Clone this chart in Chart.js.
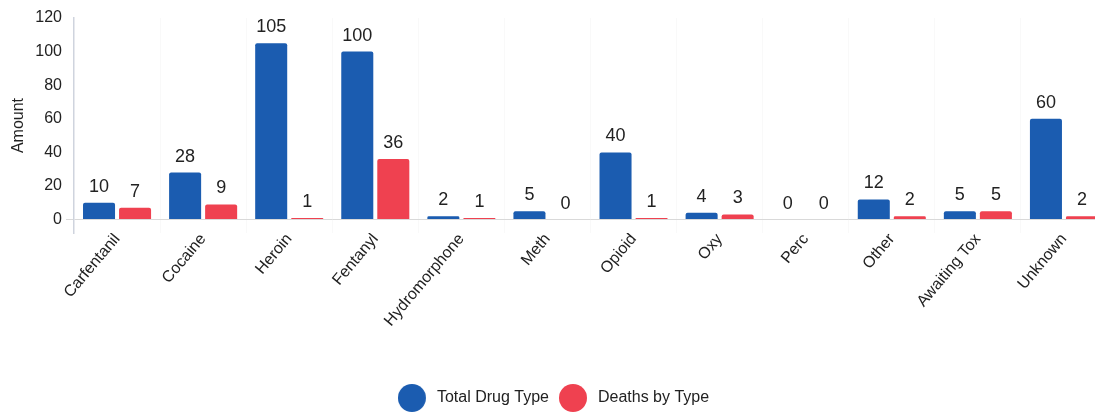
<!DOCTYPE html>
<html>
<head>
<meta charset="utf-8">
<script src="https://cdn.jsdelivr.net/npm/chart.js@4.4.1/dist/chart.umd.min.js"></script>
<style>
  html, body { margin: 0; padding: 0; background: #ffffff; overflow: hidden; }
  #wrap { position: absolute; left: 0; top: 0; width: 1107px; height: 416px; }
</style>
</head>
<body>
<div id="wrap"><canvas id="chart" width="1107" height="416"></canvas></div>
<script>
// Drug categories and counts
const categories = ['Carfentanil', 'Cocaine', 'Heroin', 'Fentanyl', 'Hydromorphone', 'Meth',
                    'Opioid', 'Oxy', 'Perc', 'Other', 'Awaiting Tox', 'Unknown'];
const totalDrugType = [10, 28, 105, 100, 2, 5, 40, 4, 0, 12, 5, 60];
const deathsByType  = [7, 9, 1, 36, 1, 0, 1, 3, 0, 2, 5, 2];
const yTickValues   = [0, 20, 40, 60, 80, 100, 120];

const BLUE = '#1b5cb0';
const RED = '#ef4150';
const FONT = "'Liberation Sans', Arial, Helvetica, sans-serif";

Chart.defaults.font.family = FONT;
Chart.defaults.color = '#222';

// Filled circle used as the legend marker
function legendDot(color) {
  const c = document.createElement('canvas');
  c.width = 31; c.height = 28;
  const g = c.getContext('2d');
  g.fillStyle = color;
  g.beginPath();
  g.arc(14, 14, 14, 0, Math.PI * 2);
  g.fill();
  return c;
}
const dots = [legendDot(BLUE), legendDot(RED)];

// Value printed above each bar
const valueLabels = {
  id: 'valueLabels',
  afterDatasetsDraw(chart) {
    const ctx = chart.ctx;
    ctx.save();
    ctx.font = '18px ' + FONT;
    ctx.fillStyle = '#222';
    ctx.textAlign = 'center';
    ctx.textBaseline = 'middle';
    chart.data.datasets.forEach((ds, i) => {
      const meta = chart.getDatasetMeta(i);
      meta.data.forEach((bar, j) => {
        ctx.fillText(String(ds.data[j]), bar.x, bar.y - 16);
      });
    });
    ctx.restore();
  }
};

new Chart(document.getElementById('chart'), {
  type: 'bar',
  data: {
    labels: categories,
    datasets: [
      { label: 'Total Drug Type', data: totalDrugType, backgroundColor: BLUE,
        borderRadius: 2, categoryPercentage: 0.837, barPercentage: 0.889 },
      { label: 'Deaths by Type', data: deathsByType, backgroundColor: RED,
        borderRadius: 2, categoryPercentage: 0.837, barPercentage: 0.889 }
    ]
  },
  options: {
    responsive: false,
    animation: false,
    layout: { padding: { top: 18, left: 0, right: 0, bottom: 0 } },
    scales: {
      x: {
        grid: { color: 'rgba(0,0,0,0.025)', drawTicks: false },
        border: { display: false },
        ticks: {
          autoSkip: false, minRotation: 50, maxRotation: 50,
          padding: -3, color: '#222', font: { size: 16 }
        },
        afterFit(scale) { scale.height = 147; }
      },
      y: {
        min: -8, max: 120,
        border: { display: true, color: '#cfd4de', width: 1.5 },
        grid: {
          tickLength: 8,
          color: c => (c.tick && c.tick.value === 0) ? '#d9d9d9' : 'rgba(0,0,0,0)'
        },
        ticks: {
          stepSize: 20, includeBounds: false, padding: 4, autoSkip: false,
          color: '#222', font: { size: 16 },
          callback: v => yTickValues.includes(v) ? String(v) : ''
        },
        title: { display: true, text: 'Amount', color: '#222', font: { size: 16 },
                 padding: { top: 9, bottom: 0 } },
        afterFit(scale) { scale.width = 74; }
      }
    },
    plugins: {
      tooltip: { enabled: false },
      legend: {
        position: 'bottom',
        labels: {
          usePointStyle: true,
          pointStyleWidth: 31,
          padding: 10,
          color: '#222',
          font: { size: 16 },
          generateLabels(chart) {
            const items = Chart.defaults.plugins.legend.labels.generateLabels(chart);
            items.forEach((it, i) => { it.pointStyle = dots[i]; });
            return items;
          }
        }
      }
    }
  },
  plugins: [valueLabels]
});
</script>
</body>
</html>
